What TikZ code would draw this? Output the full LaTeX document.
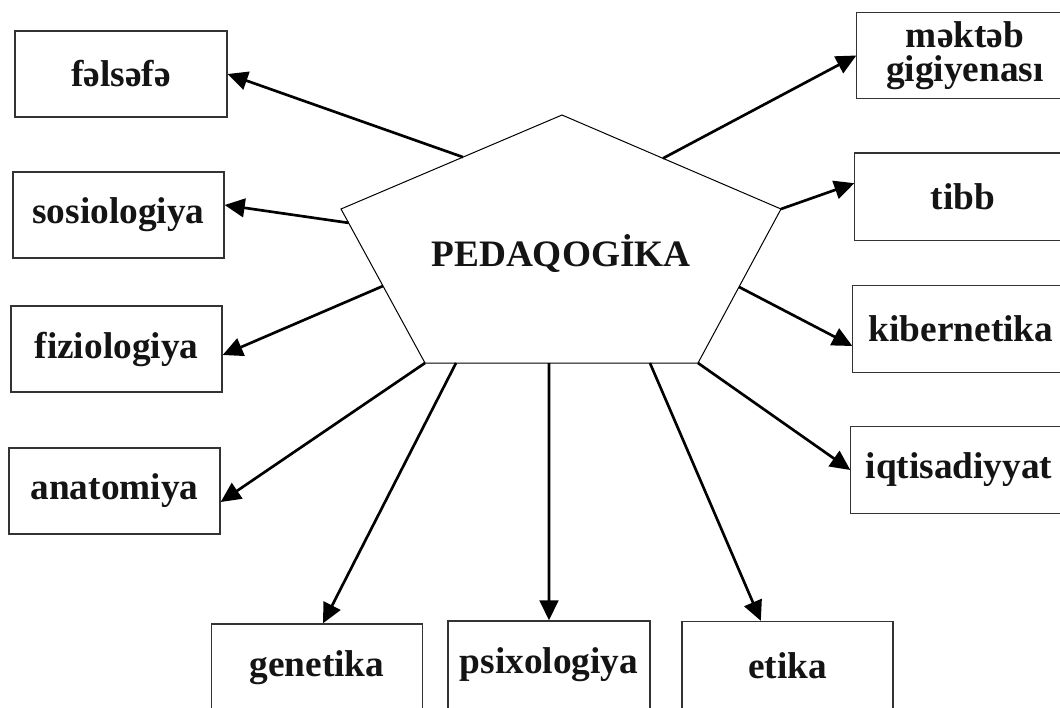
\documentclass[tikz,border=0pt]{standalone}
\usepackage{fontspec}
\setmainfont{Liberation Serif}
\usetikzlibrary{arrows.meta,calc}
\begin{document}
\begin{tikzpicture}[x=0.75pt,y=-0.75pt,
  lbl/.style={font=\fontsize{28pt}{25.5pt}\selectfont\bfseries, text=black!92},
  box/.style={lbl, draw=black!80, line width=1pt, minimum height=64.5pt, inner sep=0pt, align=center},
  openbox/.style={box, draw=none},
  boxline/.style={draw=black!80, line width=1pt},
  link/.style={line width=2pt, -{Triangle[length=15pt,width=14pt]}},
  penta/.style={draw=black, line width=0.75pt, line join=miter}
  ]
\fill[white] (0,0) rectangle (1060,707);
\useasboundingbox (0,0) rectangle (1060,707);

% boxes on the left
\node[box, minimum width=159pt]    (fel) at (121,74)    {fəlsəfə};
\node[box, minimum width=158.25pt] (sos) at (118.5,215) {sosiologiya};
\node[box, minimum width=158.25pt] (fiz) at (116.5,349) {fiziologiya};
\node[box, minimum width=158.25pt] (ana) at (114.5,491) {anatomiya};

% boxes on the right (their right sides run past the edge)
\node[openbox, minimum width=162pt, minimum height=63.75pt] (mek) at (965,55.5) {məktəb\\gigiyenası};
\node[openbox, minimum width=162pt] (tib) at (963,196.5) {tibb};
\node[openbox, minimum width=162pt] (kib) at (961,329)   {kibernetika};
\node[openbox, minimum width=162pt] (iqt) at (959,470)   {iqtisadiyyat};
\foreach \n in {mek,tib,kib,iqt}
  \draw[boxline] ([xshift=30pt]\n.north east) -- (\n.north west) -- (\n.south west) -- ([xshift=30pt]\n.south east);

% boxes at the bottom
\node[box, minimum width=158.25pt, minimum height=66pt] (gen) at (317,668)   {genetika};
\node[box, minimum width=151.5pt,  minimum height=66pt] (psi) at (549,665)   {psixologiya};
\node[box, minimum width=158.25pt, minimum height=66pt] (eti) at (787.5,665.5) {etika};

% pentagon
\coordinate (T)  at (562,115);
\coordinate (R)  at (781,209);
\coordinate (BR) at (698,363);
\coordinate (BL) at (425,363);
\coordinate (L)  at (341,209);
\draw[penta, fill=white] (T) -- (R) -- (BR) -- (BL) -- (L) -- cycle;
\node[lbl] (ped) at (561,254) {PEDAQOGİKA};

% start points on the pentagon
\coordinate (s1)  at ($(L)!0.552!(T)$);
\coordinate (s2)  at ($(L)!0.09!(BL)$);
\coordinate (s3)  at ($(L)!0.5!(BL)$);
\coordinate (s5)  at ($(BL)!0.1136!(BR)$);
\coordinate (s6)  at ($(BL)!0.454!(BR)$);
\coordinate (s7)  at ($(BL)!0.824!(BR)$);
\coordinate (s9)  at ($(R)!0.506!(BR)$);
\coordinate (s11) at ($(T)!0.461!(R)$);

% connectors
\draw[link] (s1)  -- (fel.east);
\draw[link] (s2)  -- ([yshift=7.5pt]sos.east);
\draw[link] (s3)  -- ([yshift=-4.5pt]fiz.east);
\draw[link] (BL)  -- ([yshift=-8.25pt]ana.east);
\draw[link] (s5)  -- ([xshift=4.5pt]gen.north);
\draw[link] (s6)  -- (psi.north);
\draw[link] (s7)  -- ([xshift=-20pt]eti.north);
\draw[link] (BR)  -- (iqt.west);
\draw[link] (s9)  -- ([yshift=-12.75pt]kib.west);
\draw[link] (R)   -- ([yshift=10pt]tib.west);
\draw[link] (s11) -- (mek.west);
\end{tikzpicture}
\end{document}
